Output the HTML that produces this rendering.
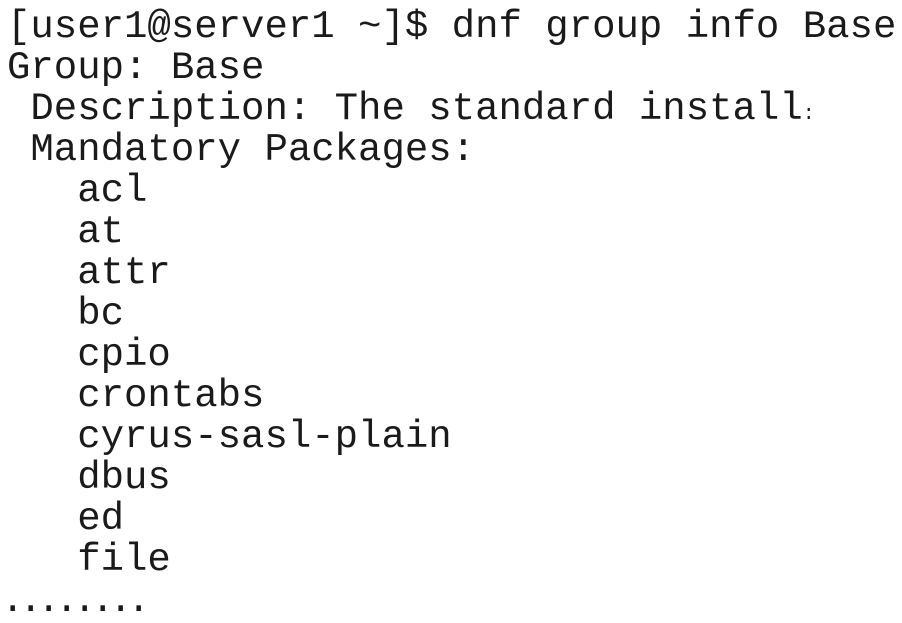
<!DOCTYPE html>
<html><head><meta charset="utf-8"><style>
html,body{margin:0;padding:0;background:#fff;}
body{width:902px;height:616px;overflow:hidden;position:relative;}
pre{margin:0;position:absolute;left:7px;top:7px;font-family:"Liberation Mono","DejaVu Sans Mono",monospace;font-size:39px;line-height:41px;color:#1a1a1a;}
.d{letter-spacing:-5.4px;margin-left:-6px;}
.s{font-size:20px;line-height:0;}
</style></head><body>
<pre>[user1@server1 ~]$ dnf group info Base
Group: Base
 Description: The standard install<span class="s">:</span>
 Mandatory Packages:
   acl
   at
   attr
   bc
   cpio
   crontabs
   cyrus-sasl-plain
   dbus
   ed
   file
<span class="d">........</span></pre>
</body></html>
